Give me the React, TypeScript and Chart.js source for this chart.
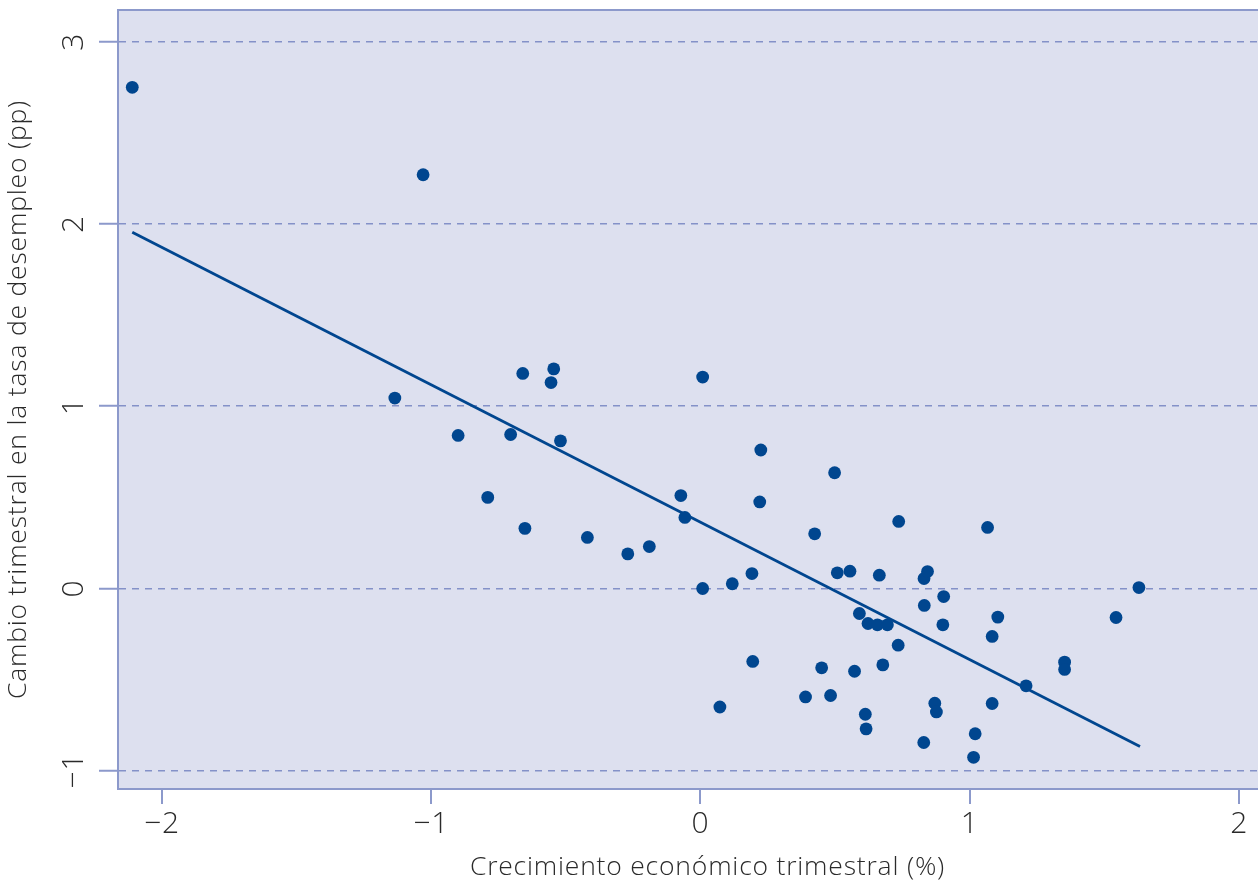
import React, { useEffect, useRef } from 'react';
import { Chart, registerables } from 'chart.js';

Chart.register(...registerables);

// Quarterly GDP growth (%) — x values
const GROWTH = [
  -2.11, -1.03, -1.135, -0.9, -0.79, -0.705, -0.66, -0.652, -0.545, -0.555,
  -0.52, -0.42, -0.27, -0.19, -0.073, -0.058, 0.008, 0.008, 0.072, 0.118,
  0.191, 0.194, 0.22, 0.224, 0.39, 0.424, 0.45, 0.483, 0.498, 0.508,
  0.555, 0.572, 0.59, 0.612, 0.615, 0.622, 0.657, 0.664, 0.677, 0.694,
  0.734, 0.736, 0.829, 0.83, 0.831, 0.843, 0.87, 0.876, 0.9, 0.903,
  1.014, 1.02, 1.066, 1.083, 1.083, 1.104, 1.209, 1.352, 1.352, 1.543,
  1.628,
];
// Quarterly change in unemployment rate (pp) — y values
const UNEMP = [
  2.75, 2.27, 1.045, 0.84, 0.5, 0.845, 1.18, 0.33, 1.205, 1.13,
  0.81, 0.28, 0.19, 0.23, 0.51, 0.39, 1.16, 0.0, -0.65, 0.026,
  0.082, -0.4, 0.475, 0.76, -0.595, 0.3, -0.435, -0.587, 0.635, 0.086,
  0.095, -0.454, -0.137, -0.69, -0.77, -0.192, -0.199, 0.073, -0.419, -0.199,
  -0.311, 0.368, -0.845, 0.055, -0.093, 0.093, -0.629, -0.677, -0.199, -0.044,
  -0.926, -0.797, 0.335, -0.263, -0.631, -0.157, -0.534, -0.404, -0.444, -0.159,
  0.005,
];
// Fitted line endpoints
const TREND_X = [-2.11, 1.632];
const TREND_Y = [1.955, -0.867];

const X_TICKS = [-2, -1, 0, 1, 2];
const Y_TICKS = [-1, 0, 1, 2, 3];
const X_TITLE = 'Crecimiento económico trimestral (%)';
const Y_TITLE = 'Cambio trimestral en la tasa de desempleo (pp)';

const FONT = "'Open Sans', 'Noto Sans', sans-serif";
const TEXT = '#2a2a2a';
const AXIS = '#8c99cb';
const GRID = '#8491c8';
const BG = '#dde0ef';
const DOT = '#00468f';

const fmt = (v: number) => (v < 0 ? '\u2212' + Math.abs(v) : String(v));

const bgPlugin = {
  id: 'plotBg',
  beforeDraw(chart: any) {
    const { ctx, chartArea } = chart;
    const { left, top, right, bottom } = chartArea;
    ctx.save();
    ctx.fillStyle = BG;
    ctx.fillRect(left, top, right - left, bottom - top);
    ctx.strokeStyle = AXIS;
    ctx.lineWidth = 2;
    ctx.beginPath();
    ctx.moveTo(left, top);
    ctx.lineTo(right, top);
    ctx.stroke();
    ctx.restore();
    // slight tracking for the text, closer to the original typeface
    (ctx as any).letterSpacing = '0.8px';
  },
};

export default function App() {
  const ref = useRef<HTMLCanvasElement | null>(null);

  useEffect(() => {
    if (!ref.current) return;
    const chart = new Chart(ref.current, {
      type: 'scatter',
      data: {
        datasets: [
          {
            type: 'line',
            data: TREND_X.map((x, i) => ({ x, y: TREND_Y[i] })),
            borderColor: DOT,
            borderWidth: 2.8,
            pointRadius: 0,
            showLine: true,
            fill: false,
            order: 2,
          } as any,
          {
            type: 'scatter',
            data: GROWTH.map((x, i) => ({ x, y: UNEMP[i] })),
            backgroundColor: DOT,
            borderWidth: 0,
            pointRadius: 6.4,
            pointHoverRadius: 6.4,
            order: 1,
          },
        ],
      },
      options: {
        animation: false,
        responsive: false,
        devicePixelRatio: 1,
        layout: { autoPadding: false, padding: { top: 10, left: 0, right: 0, bottom: 0 } },
        plugins: {
          legend: { display: false },
          tooltip: { enabled: false },
        },
        scales: {
          x: {
            type: 'linear',
            min: -2.163,
            max: 2.215,
            afterBuildTicks: (s: any) => {
              s.ticks = X_TICKS.map((v) => ({ value: v }));
            },
            afterFit: (s: any) => {
              s.height = 94;
              s.paddingLeft = 0;
              s.paddingRight = 0;
            },
            ticks: {
              callback: (v: any) => fmt(Number(v)),
              font: { family: FONT, size: 30, weight: '300' as any },
              color: TEXT,
              padding: 2,
              maxRotation: 0,
              minRotation: 0,
              autoSkip: false,
            },
            grid: {
              drawOnChartArea: false,
              drawTicks: true,
              tickLength: 15,
              color: AXIS,
              lineWidth: 2,
              tickColor: AXIS,
              tickWidth: 2,
            },
            border: { display: true, color: AXIS, width: 2 },
            title: {
              display: true,
              text: X_TITLE,
              color: TEXT,
              font: { family: FONT, size: 26.5, weight: '300' as any },
              padding: { top: 0, bottom: 0 },
            },
          },
          y: {
            type: 'linear',
            min: -1.1,
            max: 3.174,
            afterBuildTicks: (s: any) => {
              s.ticks = Y_TICKS.map((v) => ({ value: v }));
            },
            afterFit: (s: any) => {
              s.width = 118;
              s.paddingTop = 0;
              s.paddingBottom = 0;
            },
            ticks: {
              callback: (v: any) => fmt(Number(v)),
              font: { family: FONT, size: 30, weight: '300' as any },
              color: TEXT,
              padding: 7,
              minRotation: 90,
              maxRotation: 90,
              crossAlign: 'center',
              autoSkip: false,
            },
            grid: {
              drawOnChartArea: true,
              drawTicks: true,
              tickLength: 19,
              color: GRID,
              lineWidth: 1.5,
              tickColor: AXIS,
              tickWidth: 2,
              tickBorderDash: [],
              borderDash: [7, 6],
            } as any,
            border: { display: true, color: AXIS, width: 2, dash: [7, 6] } as any,
            title: {
              display: true,
              text: Y_TITLE,
              color: TEXT,
              font: { family: FONT, size: 26.5, weight: '300' as any },
              padding: { top: 3, bottom: 0 },
            },
          },
        },
      },
      plugins: [bgPlugin],
    });
    return () => chart.destroy();
  }, []);

  return (
    <div
      style={{
        position: 'absolute',
        left: 0,
        top: 0,
        width: 1258,
        height: 883,
        overflow: 'hidden',
        background: '#ffffff',
      }}
    >
      <canvas ref={ref} width={1297} height={883} style={{ display: 'block' }} />
    </div>
  );
}
